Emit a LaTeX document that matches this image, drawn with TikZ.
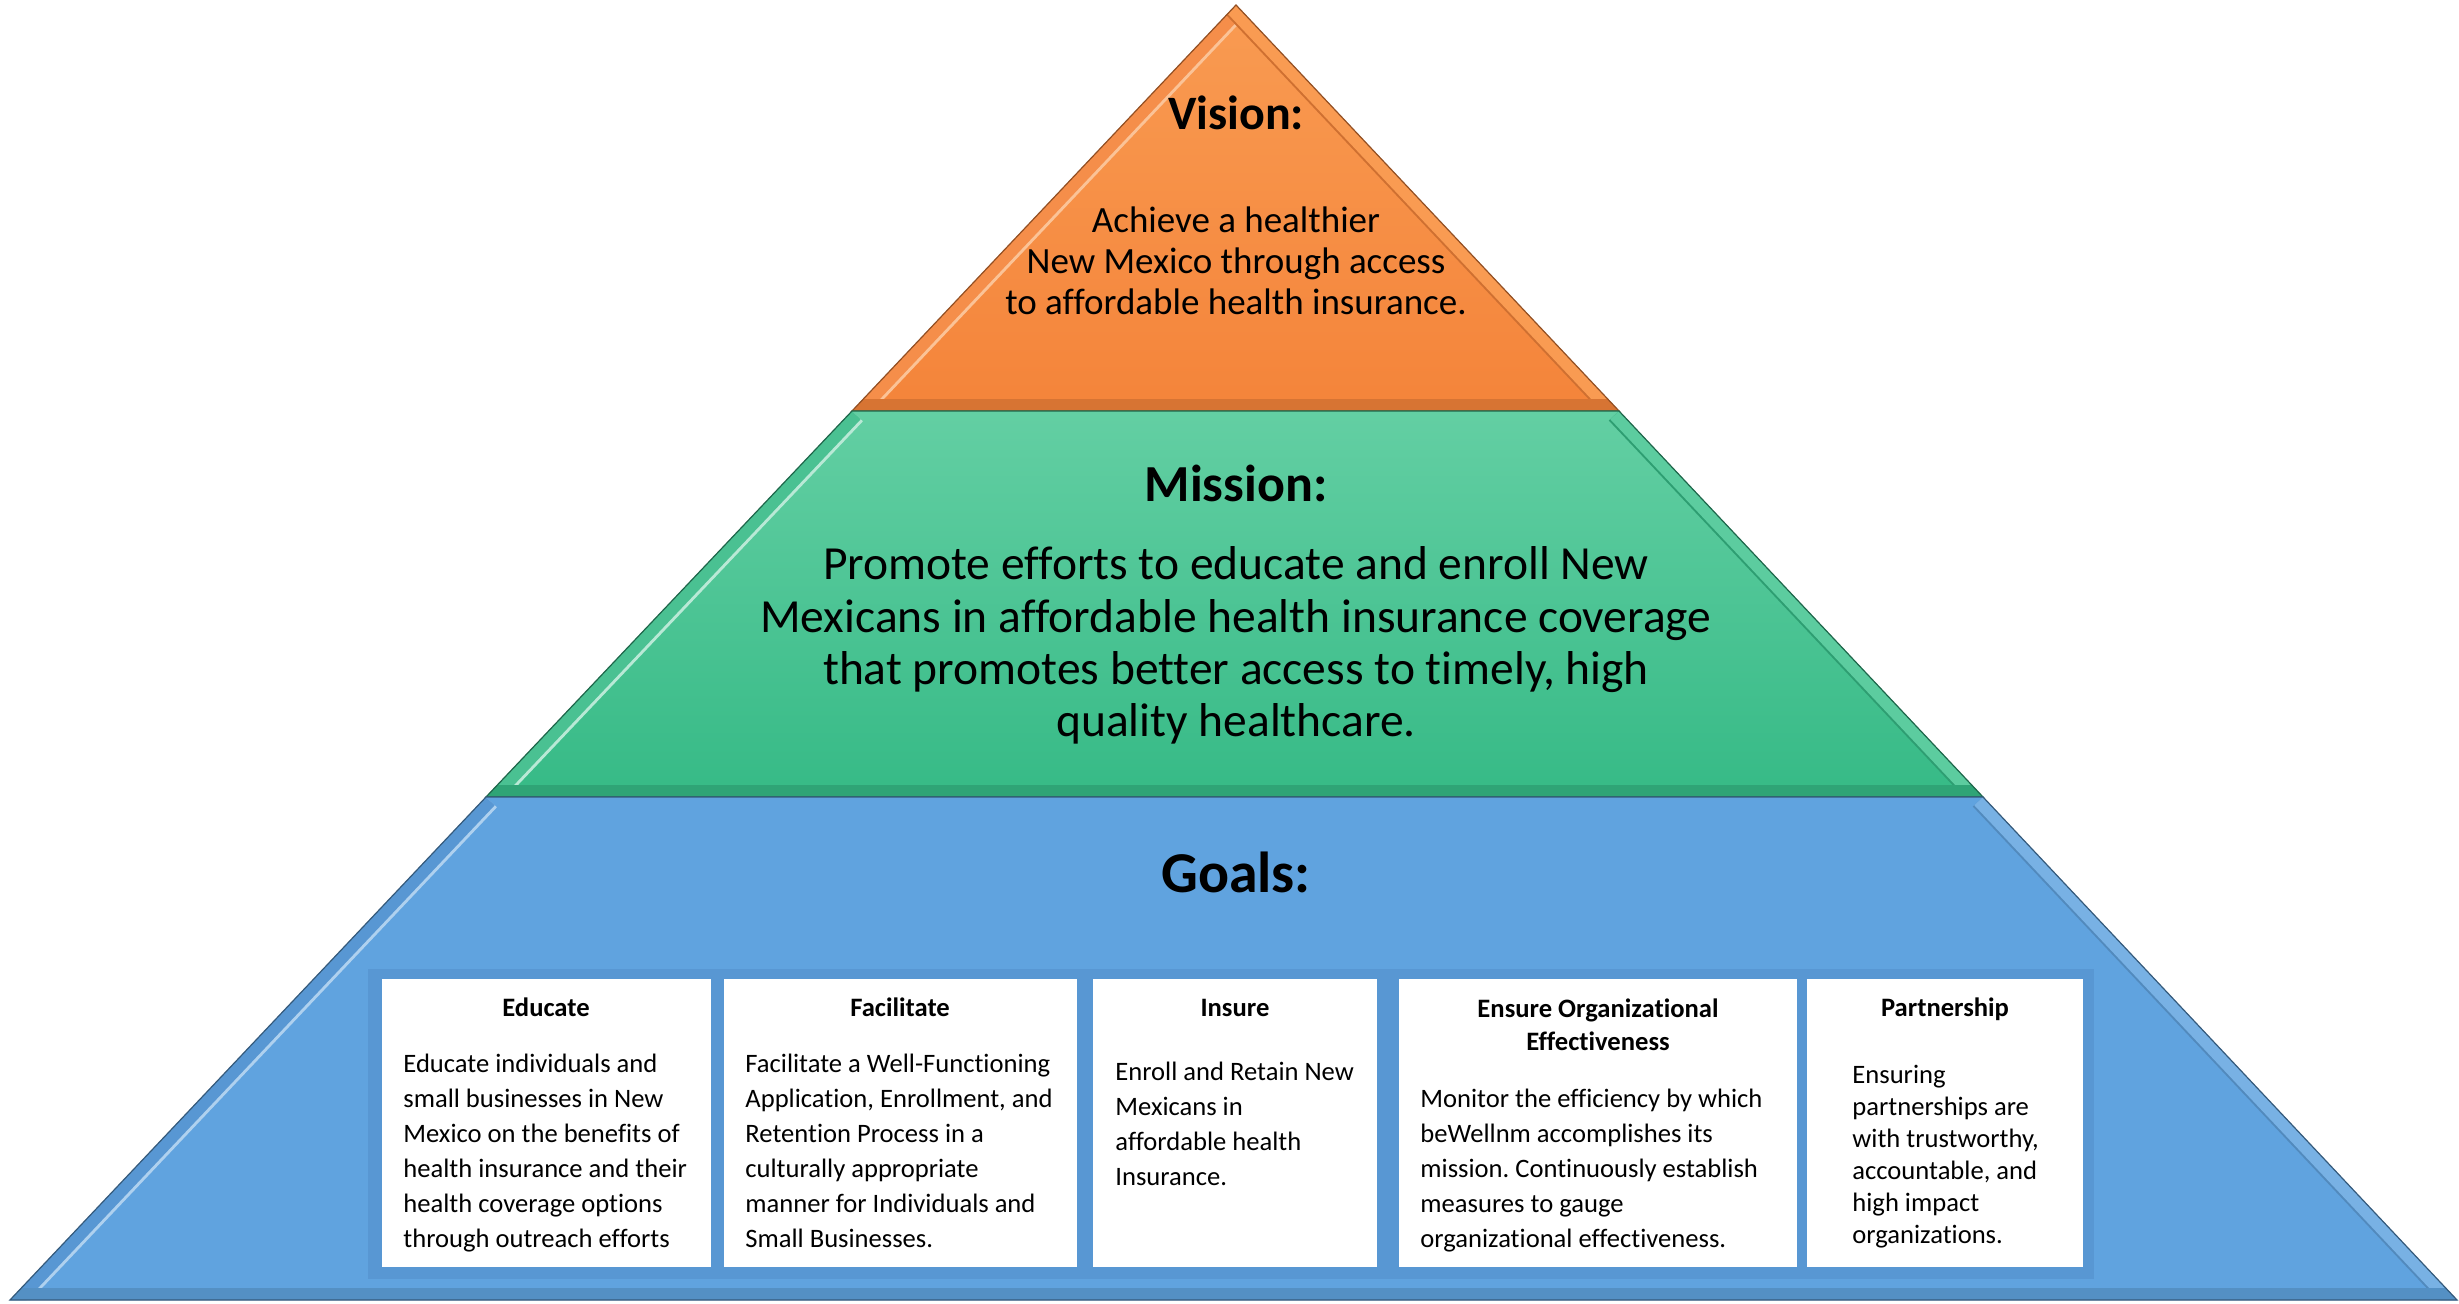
\documentclass[tikz,border=0pt]{standalone}
\usepackage{fontspec}
\setmainfont{Carlito}[Ligatures=NoCommon]
\frenchspacing
\definecolor{visionorange}{HTML}{F4843A}
\definecolor{visionlight}{HTML}{F99B52}
\definecolor{missiongreen}{HTML}{36BA86}
\definecolor{missionlight}{HTML}{63CFA3}
\definecolor{goalsblue}{HTML}{60A3DF}
\definecolor{goalsback}{HTML}{5897D3}

\begin{document}
\begin{tikzpicture}[x=0.5pt, y=-0.5pt,
  heading/.style={anchor=base, inner sep=0pt},
  statement/.style={anchor=base, inner sep=0pt, align=center},
  goalhead/.style={anchor=base, inner sep=0pt, align=center, font=\fontsize{13.3}{16.5}\selectfont\bfseries},
  goaltext/.style={anchor=base west, inner sep=0pt, align=left, font=\fontsize{13.3}{17.5}\selectfont},
  goalbox/.style={fill=white}]
\useasboundingbox (0,0) rectangle (2459,1304);

% top band
\begin{scope}
\clip (1236,5) -- (1619,411) -- (852,411) -- cycle;
\shade[top color=visionlight, bottom color=visionorange] (1236,5) -- (1619,411) -- (852,411) -- cycle;
\draw[line width=15pt, visionlight!60!white] (1236,5) -- (852,411);
\draw[line width=12pt, visionorange!92!white] (1236,5) -- (852,411);
\draw[line width=14pt, visionorange!85!black] (1236,5) -- (1619,411);
\draw[line width=12pt, visionlight] (1236,5) -- (1619,411);
\draw[line width=12pt, visionorange!88!black] (852,411) -- (1619,411);
\end{scope}
\draw[visionorange!60!black, line width=0.6pt] (1236,5) -- (1619,411) -- (852,411) -- cycle;

% middle band
\begin{scope}
\clip (852,411) -- (1619,411) -- (1983,797) -- (486,797) -- cycle;
\shade[top color=missionlight, bottom color=missiongreen] (852,411) -- (1619,411) -- (1983,797) -- (486,797) -- cycle;
\draw[line width=15pt, missionlight!45!white] (852,411) -- (486,797);
\draw[line width=12pt, missiongreen!90!white] (852,411) -- (486,797);
\draw[line width=14pt, missiongreen!85!black] (1619,411) -- (1983,797);
\draw[line width=12pt, missionlight!85!missiongreen] (1619,411) -- (1983,797);
\draw[line width=12pt, missiongreen!88!black] (486,797) -- (1983,797);
\end{scope}
\draw[missiongreen!55!black, line width=0.6pt] (852,411) -- (1619,411) -- (1983,797) -- (486,797) -- cycle;

% bottom band
\begin{scope}
\clip (486,797) -- (1983,797) -- (2457,1300) -- (10,1300) -- cycle;
\fill[goalsblue] (486,797) -- (1983,797) -- (2457,1300) -- (10,1300) -- cycle;
\draw[line width=15pt, goalsblue!50!white] (486,797) -- (10,1300);
\draw[line width=12pt, goalsback] (486,797) -- (10,1300);
\draw[line width=14pt, goalsblue!85!black] (1983,797) -- (2457,1300);
\draw[line width=12pt, goalsblue!85!white] (1983,797) -- (2457,1300);
\draw[line width=12pt, goalsblue!88!black] (10,1300) -- (2457,1300);
\end{scope}
\draw[goalsblue!55!black, line width=0.6pt] (486,797) -- (1983,797) -- (2457,1300) -- (10,1300) -- cycle;

% headings and statements (multi-line nodes sit on their last baseline)
\node[heading, font=\fontsize{24}{29}\selectfont\bfseries] (vision) at (1236,130) {Vision:};
\node[statement, font=\fontsize{18.5}{20.5}\selectfont] (visiontext) at (1236,315)
  {Achieve a healthier\\New Mexico through access\\to affordable health insurance.};
\node[heading, font=\fontsize{26}{31}\selectfont\bfseries] (mission) at (1236,502) {Mission:};
\node[statement, font=\fontsize{23.75}{26.2}\selectfont] (missiontext) at (1236,737)
  {Promote efforts to educate and enroll New\\Mexicans in affordable health insurance coverage\\that promotes better access to timely, high\\quality healthcare.};
\node[heading, font=\fontsize{28.9}{34}\selectfont\bfseries] (goals) at (1236,892) {Goals:};

% goal cards
\fill[goalsback] (368,969) rectangle (2094,1279);
\fill[goalbox] (382,979) rectangle (711,1267);
\fill[goalbox] (724,979) rectangle (1077,1267);
\fill[goalbox] (1093,979) rectangle (1377,1267);
\fill[goalbox] (1399,979) rectangle (1797,1267);
\fill[goalbox] (1807,979) rectangle (2083,1267);

\node[goalhead] (educate) at (546,1016) {Educate};
\node[goaltext] (educatetext) at (403,1247)
  {Educate individuals and\\small businesses in New\\Mexico on the benefits of\\health insurance and their\\health coverage options\\through outreach efforts};
\node[goalhead] (facilitate) at (900,1016) {Facilitate};
\node[goaltext] (facilitatetext) at (745,1247)
  {Facilitate a Well-Functioning\\Application, Enrollment, and\\Retention Process in a\\culturally appropriate\\manner for Individuals and\\Small Businesses.};
\node[goalhead] (insure) at (1235,1016) {Insure};
\node[goaltext] (insuretext) at (1115,1185)
  {Enroll and Retain New\\Mexicans in\\affordable health\\Insurance.};
\node[goalhead] (ensure) at (1598,1050) {Ensure Organizational\\Effectiveness};
\node[goaltext] (ensuretext) at (1420,1247)
  {Monitor the efficiency by which\\beWellnm accomplishes its\\mission. Continuously establish\\measures to gauge\\organizational effectiveness.};
\node[goalhead] (partnership) at (1945,1016) {Partnership};
\node[goaltext, font=\fontsize{13.3}{16}\selectfont] (partnershiptext) at (1852,1243)
  {Ensuring\\partnerships are\\with trustworthy,\\accountable, and\\high impact\\organizations.};
\end{tikzpicture}
\end{document}
